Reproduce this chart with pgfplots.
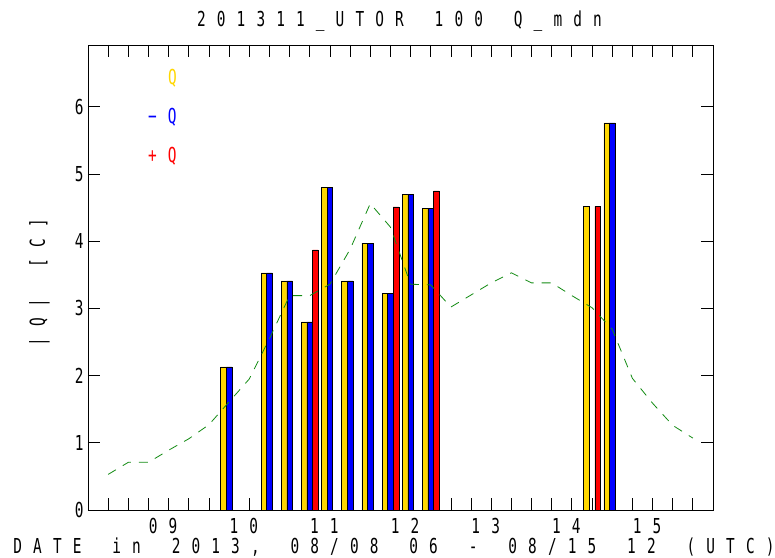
\documentclass[border=0pt]{standalone}
\usepackage{fontspec}
\usepackage{pgfplots}
\pgfplotsset{compat=1.18}
\newfontfamily\gfn[FakeStretch=0.7]{DejaVu Sans Mono}
\newcommand\gfs{\gfn\fontsize{20.6pt}{24pt}\selectfont}
\ExplSyntaxOn
\NewDocumentCommand\mono{m}{ \str_map_inline:nn {#1} { \makebox[19.8pt][l]{##1} } \hspace*{-11.1pt} }
\ExplSyntaxOff
\definecolor{qy}{RGB}{255,215,0}
\definecolor{qb}{RGB}{0,0,255}
\definecolor{qr}{RGB}{255,0,0}
\definecolor{qg}{RGB}{20,140,20}
\begin{document}
\begin{tikzpicture}
\path[use as bounding box, fill=white] (-88pt,-47pt) rectangle (687pt,510pt);
\begin{axis}[
  at={(0pt,0pt)}, anchor=south west,
  scale only axis, width=625pt, height=465pt,
  xmin=0, xmax=186, ymin=0, ymax=6.92,
  xtick={6,12,...,180},
  xticklabels={,,,\mono{09},,,,\mono{10},,,,\mono{11},,,,\mono{12},,,,\mono{13},,,,\mono{14},,,,\mono{15},,},
  ytick={0,1,2,3,4,5,6},
  yticklabels={0,1,2,3,4,5,6},
  tick align=inside, major tick length=12pt,
  tick style={black, line width=0.8pt},
  axis line style={line width=0.8pt},
  ticklabel style={font=\gfs},
  xticklabel style={anchor=base, yshift=-23pt, xshift=-5.5pt},
  yticklabel style={anchor=east, xshift=-1pt},
  title={\mono{201311_UTOR 100 Q_mdn}},
  title style={font=\gfs, inner sep=0pt, at={(axis description cs:0.5,1)}, anchor=base, yshift=12pt, xshift=-1pt},
  xlabel={\mono{DATE in 2013, 08/08 06 - 08/15 12 (UTC)}},
  xlabel style={font=\gfs, inner sep=0pt, at={(axis description cs:0.5,0)}, anchor=base, yshift=-43.5pt, xshift=-6.5pt},
  ylabel={\mono{|Q| [C]}},
  ylabel style={font=\gfs, inner sep=0pt, at={(axis description cs:-0.0688,0.5)}, anchor=base, xshift=-5.5pt},
]
% Q (yellow)
\addplot[ybar, bar width=1.67, bar shift=-1.67, fill=qy, draw=black, line width=0.5pt] coordinates {
 (42,2.13) (54,3.53) (60,3.41) (66,2.80) (72,4.80) (78,3.41) (84,3.97) (90,3.22) (96,4.70) (102,4.49) (150,4.52) (156,5.76)};
% -Q (blue)
\addplot[ybar, bar width=1.67, bar shift=0, fill=qb, draw=black, line width=0.5pt] coordinates {
 (42,2.13) (54,3.53) (60,3.41) (66,2.80) (72,4.80) (78,3.41) (84,3.97) (90,3.22) (96,4.70) (102,4.49) (156,5.76)};
% +Q (red)
\addplot[ybar, bar width=1.67, bar shift=1.67, fill=qr, draw=black, line width=0.5pt] coordinates {
 (66,3.87) (90,4.51) (102,4.75) (150,4.52)};
% median line
\addplot[qg, line width=0.8pt, dash pattern=on 9pt off 8pt] coordinates {
 (6,0.53) (12,0.71) (18,0.71) (24,0.89) (30,1.06) (36,1.27) (42,1.61) (48,1.95)
 (54,2.55) (60,3.19) (66,3.19) (72,3.36) (78,3.88) (84,4.56) (90,4.21) (96,3.36)
 (102,3.35) (108,3.02) (114,3.20) (120,3.38) (126,3.53) (132,3.38) (138,3.38)
 (144,3.19) (150,3.01) (156,2.69) (162,1.96) (168,1.59) (174,1.26) (180,1.07)};
\node[anchor=base west, inner sep=0, text=qy, font=\gfs] at (rel axis cs:0.128,0.916) {\mono{Q}};
\node[anchor=base west, inner sep=0, text=qb, font=\gfs] at (rel axis cs:0.096,0.831) {\mono{−Q}};
\node[anchor=base west, inner sep=0, text=qr, font=\gfs] at (rel axis cs:0.096,0.747) {\mono{+Q}};
\end{axis}
\end{tikzpicture}
\end{document}
